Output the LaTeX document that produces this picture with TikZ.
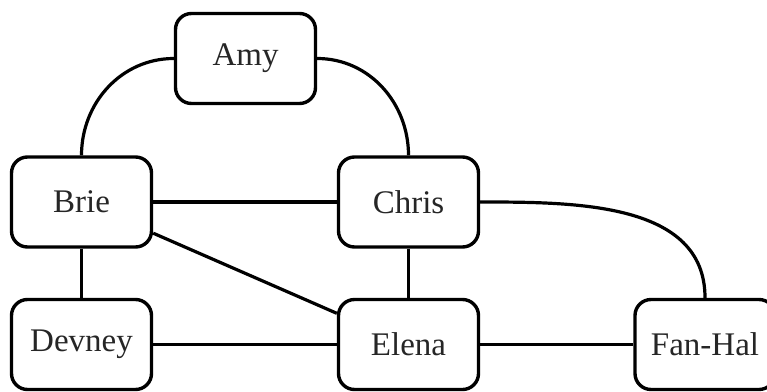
\documentclass[tikz,border=0pt]{standalone}
\usepackage{fontspec}
\setmainfont{Liberation Serif}
\begin{document}
\begin{tikzpicture}[x=1pt,y=1pt,
  person/.style={draw=black, line width=3.4pt, rounded corners=16pt, fill=white,
    minimum width=140pt, minimum height=90pt, inner sep=0pt,
    font=\fontsize{33}{39}\selectfont, text=black!85},
  link/.style={line width=3.2pt}]
\useasboundingbox (0,0) rectangle (767,-391);
\begin{scope}
\clip (0,0) rectangle (767,-391);
\node[person] (amy) at (245.5,-58.5) {Amy};
\node[person] (brie) at (81.5,-202) {Brie};
\node[person] (chris) at (408.5,-202) {Chris};
\node[person] (devney) at (81.5,-344.5) {Devney};
\node[person] (elena) at (408.5,-344.5) {Elena};
\node[person] (fanhal) at (705,-344.5) {Fan-Hal};
\draw[link] (amy.west) to[out=180,in=90] (brie.north);
\draw[link] (amy.east) to[out=0,in=90] (chris.north);
\draw[link] (brie) -- (chris);
\draw[link] (brie) -- (devney);
\draw[link] (brie) -- (elena);
\draw[link] (chris) -- (elena);
\draw[link] (devney) -- (elena);
\draw[link] (elena) -- (fanhal);
\draw[link] (chris.east) to[out=0,in=90] (fanhal.north);
\end{scope}
\end{tikzpicture}
\end{document}
